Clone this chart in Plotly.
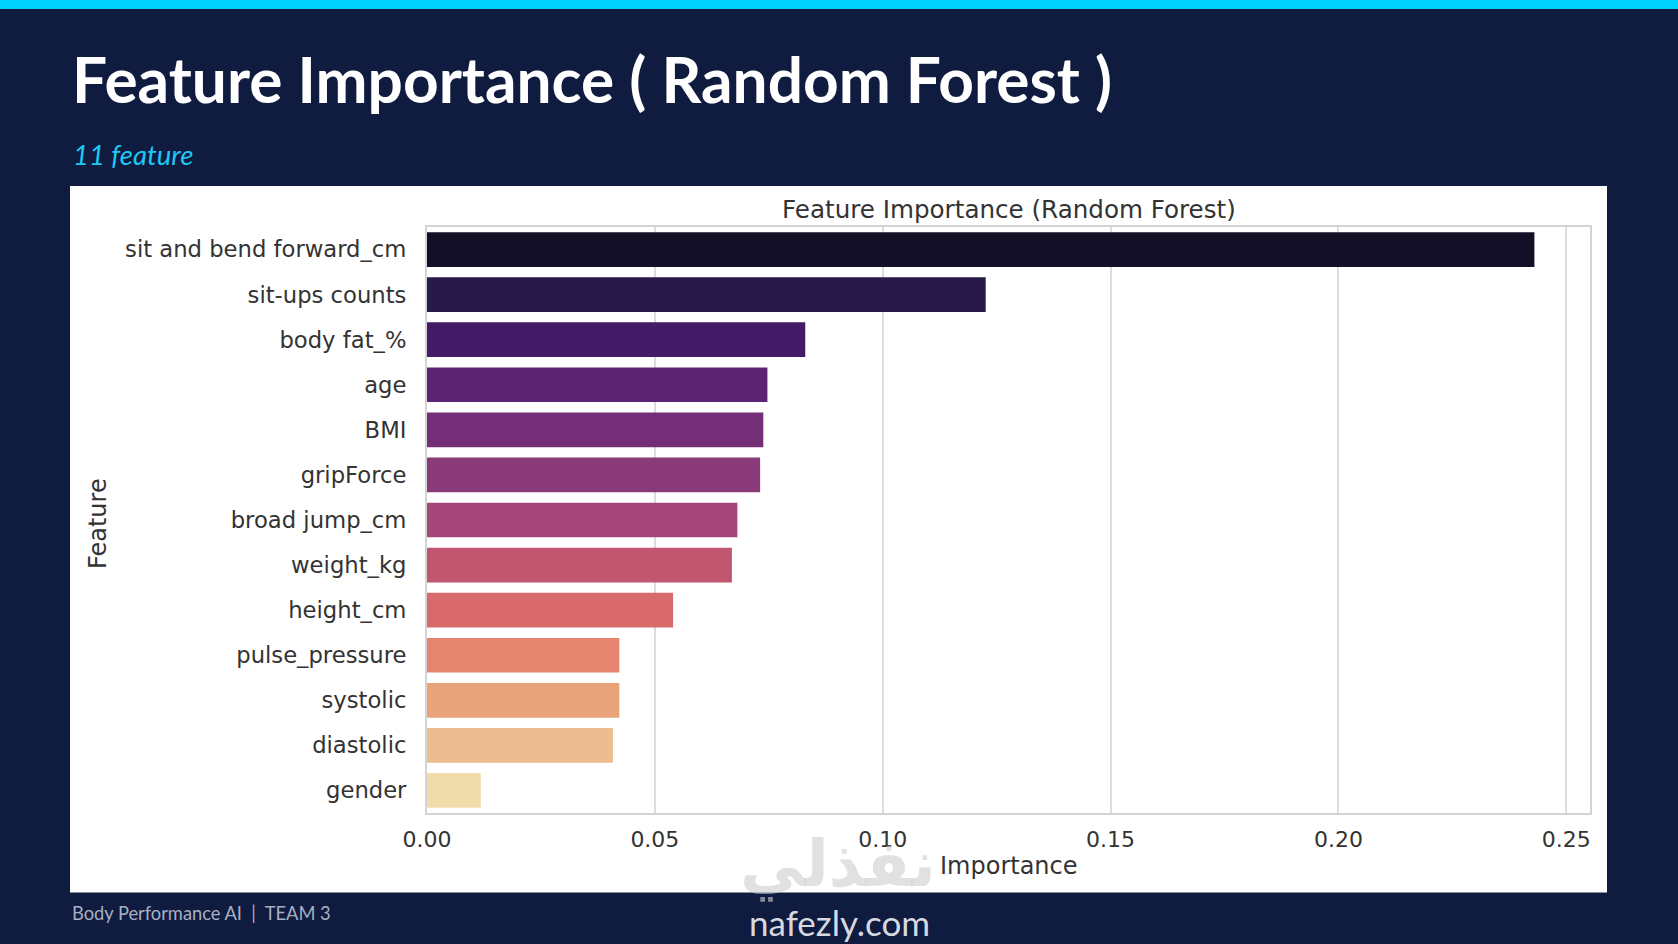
import plotly.graph_objects as go

W, H = 1678, 944

features = ["sit and bend forward_cm", "sit-ups counts", "body fat_%", "age", "BMI",
            "gripForce", "broad jump_cm", "weight_kg", "height_cm", "pulse_pressure",
            "systolic", "diastolic", "gender"]
importance = [0.2430, 0.1226, 0.0830, 0.0747, 0.0738, 0.0731, 0.0681, 0.0669,
              0.0540, 0.0422, 0.0422, 0.0408, 0.0118]
bar_colors = ["#120f26", "#271a48", "#431b66", "#5b2473", "#742e78", "#8a3a78",
              "#a54678", "#c0566f", "#d96a6b", "#e6856f", "#e9a37b", "#ecbd90", "#f0dbaa"]
x_ticks = [0.0, 0.05, 0.10, 0.15, 0.20, 0.25]
x_ticktext = ["0.00", "0.05", "0.10", "0.15", "0.20", "0.25"]

NAVY = "#0f1b3f"
CYAN = "#00d2ff"

def px(x):
    return x / W

def py(y):
    return 1 - y / H

fig = go.Figure()
fig.add_trace(go.Bar(
    x=importance, y=features, orientation="h",
    marker=dict(color=bar_colors, line=dict(width=0)),
    hoverinfo="x+y",
))

plot_l, plot_r, plot_t, plot_b = 427, 1590, 227, 813

fig.update_layout(
    width=W, height=H,
    margin=dict(l=0, r=0, t=0, b=0, pad=0, autoexpand=False),
    paper_bgcolor=NAVY,
    plot_bgcolor="white",
    showlegend=False,
    bargap=0.23,
    xaxis=dict(
        domain=[px(plot_l), px(plot_r)],
        range=[0, 0.2552],
        tickvals=x_ticks, ticktext=x_ticktext,
        showgrid=True, gridcolor="#dcdcdc", gridwidth=1.6,
        showline=True, linecolor="#d4d4d4", linewidth=2, mirror=True,
        zeroline=False, ticks="",
        automargin=False,
        ticklabelstandoff=6,
        tickfont=dict(family="DejaVu Sans", size=22, color="#333333"),
    ),
    yaxis=dict(
        domain=[py(plot_b), py(plot_t)],
        categoryorder="array", categoryarray=features,
        autorange="reversed",
        showgrid=False,
        showline=True, linecolor="#d4d4d4", linewidth=2, mirror=True,
        zeroline=False, ticks="",
        automargin=False,
        ticklabelstandoff=14,
        tickfont=dict(family="DejaVu Sans", size=22.7, color="#333333"),
    ),
    shapes=[
        dict(type="rect", xref="paper", yref="paper", layer="below",
             x0=px(70), x1=px(1607), y0=py(892.5), y1=py(186),
             fillcolor="white", line=dict(width=0)),
        dict(type="rect", xref="paper", yref="paper", layer="below",
             x0=0, x1=1, y0=py(9), y1=1,
             fillcolor=CYAN, line=dict(width=0)),
    ],
)

annotations = [
    dict(text="<b>Feature Importance ( Random Forest )</b>", x=px(70), y=py(79),
         xanchor="left", yanchor="middle",
         font=dict(family="Lato", size=62.2, color="white")),
    dict(text="<i>11 feature</i>", x=px(71), y=py(155),
         xanchor="left", yanchor="middle",
         font=dict(family="Lato", size=27.5, color="#1ec8f5")),
    dict(text="Feature Importance (Random Forest)", x=px((plot_l + plot_r) / 2), y=py(209),
         xanchor="center", yanchor="middle",
         font=dict(family="DejaVu Sans", size=24.6, color="#333333")),
    dict(text="<b>نفذلي</b>", x=px(838), y=py(864),
         xanchor="center", yanchor="middle",
         font=dict(family="DejaVu Sans", size=64, color="rgba(205,205,205,0.6)")),
    dict(text="Importance", x=px((plot_l + plot_r) / 2), y=py(866),
         xanchor="center", yanchor="middle",
         font=dict(family="DejaVu Sans", size=24, color="#333333")),
    dict(text="Feature", x=px(98), y=py(524), textangle=-90,
         xanchor="center", yanchor="middle",
         font=dict(family="DejaVu Sans", size=24, color="#333333")),
    dict(text="Body Performance AI  |  TEAM 3", x=px(70), y=py(913),
         xanchor="left", yanchor="middle",
         font=dict(family="Lato", size=18.3, color="#a8afc2")),
    dict(text="nafezly.com", x=px(839), y=py(922),
         xanchor="center", yanchor="middle",
         font=dict(family="Lato", size=35, color="#d6d9e0")),
]
for a in annotations:
    a.update(xref="paper", yref="paper", showarrow=False)
fig.update_layout(annotations=annotations)

fig.write_html(
    "out.html",
    config={"displayModeBar": False},
    post_script="document.body.style.margin='0';document.body.style.overflow='hidden';",
)
